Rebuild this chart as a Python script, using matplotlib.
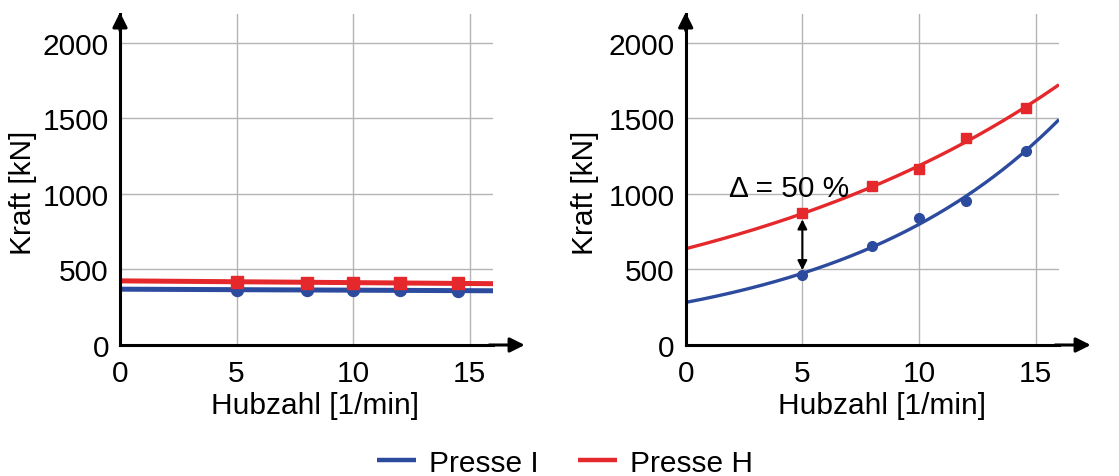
import numpy as np
import matplotlib
matplotlib.use("Agg")
import matplotlib.pyplot as plt
from matplotlib.lines import Line2D

plt.rcParams['font.family'] = ['Liberation Sans', 'DejaVu Sans']

# ---- data ----
hub_left = [5, 8, 10, 12, 14.5]
kraft_left_I = [362, 367, 365, 365, 355]
kraft_left_H = [420, 413, 411, 413, 407]

hub_right = [5, 8, 10, 12, 14.6]
kraft_right_I = [465, 653, 838, 953, 1283]
kraft_right_H = [871, 1049, 1167, 1367, 1571]

x_ticks = [0, 5, 10, 15]
y_ticks = [0, 500, 1000, 1500, 2000]
series_names = ["Presse I", "Presse H"]
delta_label = "Δ = 50 %"

BLUE = "#2D4B9E"
RED = "#E5282C"
GRID = "#b4b4b4"
FS = 21.5

W, H = 1119, 477
fig = plt.figure(figsize=(W / 100, H / 100), dpi=100)

x_fit = np.linspace(0, 16, 200)


def setup(ax):
    ax.set_xlim(0, 16)
    ax.set_ylim(0, 2190)
    ax.set_xticks(x_ticks)
    ax.set_yticks(y_ticks)
    ax.tick_params(length=0, labelsize=FS)
    ax.tick_params(axis='x', pad=10)
    ax.tick_params(axis='y', pad=8)
    ax.grid(True, color=GRID, lw=1.0)
    ax.set_axisbelow(True)
    for s in ['top', 'right']:
        ax.spines[s].set_visible(False)
    for s in ['left', 'bottom']:
        ax.spines[s].set_linewidth(2.2)
        ax.spines[s].set_color('black')
    # x-axis arrow
    ax.annotate('', xy=(1.085, 0), xytext=(0.99, 0), xycoords='axes fraction',
                arrowprops=dict(arrowstyle='-|>', color='black', lw=2.2,
                                mutation_scale=22, shrinkA=0, shrinkB=0),
                annotation_clip=False)
    # y-axis arrow
    ax.annotate('', xy=(0, 1.005), xytext=(0, 0.95), xycoords='axes fraction',
                arrowprops=dict(arrowstyle='-|>', color='black', lw=2.2,
                                mutation_scale=22, shrinkA=0, shrinkB=0),
                annotation_clip=False)
    ax.set_xlabel("Hubzahl [1/min]", fontsize=FS)
    ax.set_ylabel("Kraft [kN]", fontsize=FS)


bottom = (H - 346) / H
height = (346 - 15) / H

# ---- left panel ----
ax1 = fig.add_axes([120 / W, bottom, 373 / W, height])
setup(ax1)
ax1.xaxis.set_label_coords(0.523, -0.14)
ax1.yaxis.set_label_coords(-0.222, 0.464)
for xs, ys, col, mk, ms in [(hub_left, kraft_left_I, BLUE, 'o', 8.6),
                            (hub_left, kraft_left_H, RED, 's', 8.6)]:
    p = np.polyfit(xs, ys, 1)
    ax1.plot(x_fit, np.polyval(p, x_fit), color=col, lw=3.6, solid_capstyle='butt')
    ax1.plot(xs, ys, linestyle='none', marker=mk, color=col, ms=ms)

# ---- right panel ----
ax2 = fig.add_axes([685.7 / W, bottom, 373.3 / W, height])
setup(ax2)
ax2.xaxis.set_label_coords(0.525, -0.14)
ax2.yaxis.set_label_coords(-0.232, 0.464)
for xs, ys, col, mk, ms in [(hub_right, kraft_right_I, BLUE, 'o', 7),
                            (hub_right, kraft_right_H, RED, 's', 6.8)]:
    b, ln_a = np.polyfit(xs, np.log(ys), 1)
    ax2.plot(x_fit, np.exp(ln_a + b * x_fit), color=col, lw=2.4, solid_capstyle='butt')
    ax2.plot(xs, ys, linestyle='none', marker=mk, color=col, ms=ms)

ax2.annotate('', xy=(hub_right[0], kraft_right_H[0] - 40),
             xytext=(hub_right[0], kraft_right_I[0] + 30),
             arrowprops=dict(arrowstyle='<|-|>', color='black', lw=1.5,
                             mutation_scale=14, shrinkA=0, shrinkB=0))
ax2.text(1.85, 1040, delta_label, fontsize=FS, va='center', ha='left')

# ---- legend ----
handles = [Line2D([], [], color=BLUE, lw=3.2, solid_capstyle='butt'),
           Line2D([], [], color=RED, lw=3.2, solid_capstyle='butt')]
fig.legend(handles, series_names, loc='center', bbox_to_anchor=(0.505, 0.028),
           ncol=2, frameon=False, fontsize=FS, handlelength=1.3,
           handletextpad=0.45, columnspacing=1.3)

fig.savefig("out.png", dpi=100)
